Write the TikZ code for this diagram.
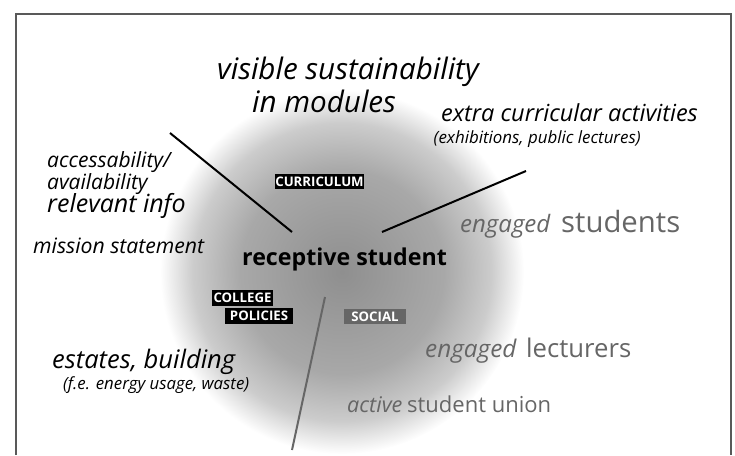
\documentclass[tikz,border=0pt]{standalone}
\usepackage{fontspec}
\setmainfont{Open Sans}
\definecolor{spotA}{gray}{0.56}
\definecolor{spotB}{gray}{0.66}
\definecolor{spotC}{gray}{0.80}
\definecolor{frameclr}{gray}{0.35}
\definecolor{softtext}{gray}{0.40}
\pgfdeclareradialshading{spot}{\pgfpoint{0bp}{0bp}}{%
  color(0bp)=(spotA); color(14bp)=(spotB); color(20.5bp)=(spotC);
  color(25bp)=(white); color(50bp)=(white)}
\newcommand\fs[1]{\fontsize{#1}{#1}\selectfont}
\begin{document}
\begin{tikzpicture}[x=1pt,y=-1pt,
  txt/.style={inner sep=0pt, anchor=base west, font=\itshape},
  tag/.style={fill=black, text=white, inner sep=0pt, minimum height=15pt,
    font=\bfseries\fs{13.2}},
  spoke/.style={line width=2pt}]
\useasboundingbox (0,0) rectangle (735,455);
% soft grey disc behind the student
\shade[shading=spot] (342,272) circle (182);
% open frame
\draw[frameclr, line width=2pt] (15.5,455) -- (15.5,14) -- (731,14) -- (731,455);

% centre
\node[inner sep=0pt, anchor=base west, font=\bfseries\fs{23.2}] (rs) at (242,265) {receptive student};

% tags
\node[tag, minimum width=87pt] (cur) at (319.5,181.5) {CURRICULUM};
\node[tag, minimum width=61pt, minimum height=16pt] (col) at (242.5,298) {COLLEGE};
\node[tag, minimum width=68pt, minimum height=16pt] (pol) at (259,316) {POLICIES};
\node[tag, minimum width=62pt, fill=softtext] (soc) at (375,316.5) {SOCIAL};

% spokes
\coordinate (s1a) at (170,133);  \coordinate (s1b) at (292,232);
\coordinate (s2a) at (526,171);  \coordinate (s2b) at (382,232);
\coordinate (s3a) at (325,297);  \coordinate (s3b) at (292,450);
\draw[spoke] (s1a) -- (s1b);
\draw[spoke] (s2a) -- (s2b);
\draw[spoke, softtext] (s3a) -- (s3b);

% curriculum
\node[txt, font=\itshape\fs{29.6}] (vis) at (217,79) {visible sustainability};
\node[txt, font=\itshape\fs{29.6}] (mod) at (252,112) {in modules};

% extra curricular
\node[txt, font=\itshape\fs{23.5}] (eca) at (441,121) {extra curricular activities};
\node[txt, font=\itshape\fs{16.9}] (exh) at (433.5,143) {(exhibitions, public lectures)};

% left column
\node[txt, font=\itshape\fs{21}] (acc) at (47,167) {accessability/};
\node[txt, font=\itshape\fs{21}] (ava) at (47,189) {availability};
\node[txt, font=\itshape\fs{25}] (rel) at (47,212) {relevant info};
\node[txt, font=\itshape\fs{21.2}] (mis) at (33,253) {mission statement};
\node[txt, font=\itshape\fs{25.5}] (est) at (52,368) {estates, building};
\node[txt, font=\itshape\fs{16.8}] (fe) at (63,389) {(f.e. energy usage, waste)};

% engagement
\node[txt, text=softtext, font=\itshape\fs{24}] (es1) at (460,232) {engaged};
\node[txt, text=softtext, font=\fs{29.3}] (es2) at (561,232) {students};
\node[txt, text=softtext, font=\itshape\fs{24.3}] (el1) at (425,357) {engaged};
\node[txt, text=softtext, font=\fs{25.7}] (el2) at (526,357) {lecturers};
\node[txt, text=softtext, font=\itshape\fs{21.6}] (asu1) at (347,412) {active};
\node[txt, text=softtext, font=\fs{22}] (asu2) at (407,412) {student union};
\end{tikzpicture}
\end{document}
